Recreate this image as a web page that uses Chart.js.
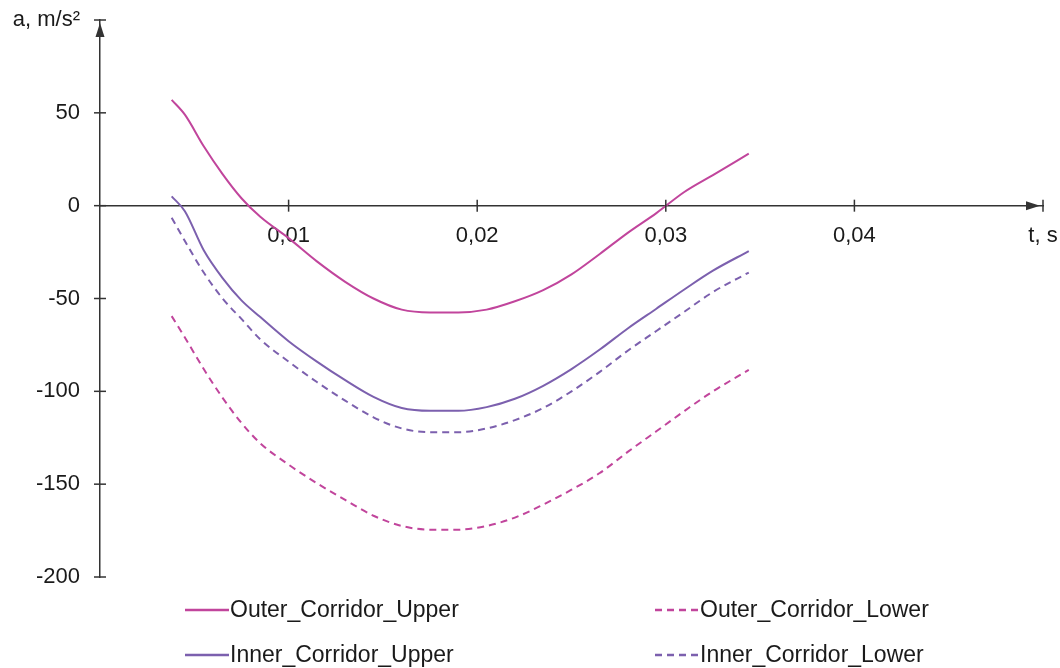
<!DOCTYPE html>
<html>
<head>
<meta charset="utf-8">
<script src="https://cdn.jsdelivr.net/npm/chart.js@4"></script>
<style>
  body { margin: 0; background: #fff; }
  canvas { display: block; }
</style>
</head>
<body>
<canvas id="accChart" width="1060" height="668"></canvas>
<script>
// time, s
const tVals = [0.0038, 0.0045, 0.0055, 0.0065, 0.0075, 0.0085, 0.01, 0.0115, 0.013, 0.0145, 0.016, 0.0175,
               0.019, 0.0205, 0.022, 0.0235, 0.025, 0.0265, 0.028, 0.0295, 0.031, 0.0325, 0.0344];

// acceleration, m/s²
const outerUpper = [57, 49, 32, 17, 4, -6, -17.5, -30, -41, -50, -56, -57.5,
                    -57.5, -56, -51.5, -45.5, -37, -26, -14.5, -4, 7.5, 16.5, 28];
const innerUpper = [5, -3, -24, -39, -51, -60, -73, -84, -94, -103, -109, -110.5,
                    -110.5, -108.5, -104, -97, -88, -77.5, -66, -55.5, -45, -35, -24.5];
const innerLower = [-6.5, -19, -36, -50, -61, -72, -84, -95, -105, -114, -120, -122,
                    -122, -120, -115.5, -109, -100, -89.5, -78, -67.5, -57, -46.5, -36];
const outerLower = [-59.5, -71, -88, -103.5, -117, -128, -139.5, -149.5, -158.5, -167, -172.5, -174.5,
                    -174.5, -172.5, -168, -161, -153, -144, -132.5, -121.5, -110.5, -100, -88.5];

const xTicks = [0.01, 0.02, 0.03, 0.04, 0.05];
const yTicks = [100, 50, 0, -50, -100, -150, -200];

const magenta = "#c1459c";
const purple = "#7c60ae";
const axisColor = "#333333";
const fontFamily = "'Liberation Sans', Arial, sans-serif";

function pts(arr) {
    return tVals.map((t, i) => ({ x: t, y: arr[i] }));
}

// axes arrows + ticks crossing the axis + legend
const axesPlugin = {
    id: "axesPlugin",
    afterDraw(chart) {
        const ctx = chart.ctx;
        const xs = chart.scales.x;
        const ys = chart.scales.y;
        const x0 = xs.getPixelForValue(0);
        const y0 = ys.getPixelForValue(0);
        ctx.save();
        ctx.strokeStyle = axisColor;
        ctx.fillStyle = axisColor;
        ctx.lineWidth = 1.5;

        xTicks.forEach(v => {
            const px = xs.getPixelForValue(v);
            ctx.beginPath();
            ctx.moveTo(px, y0 - 6);
            ctx.lineTo(px, y0 + 6);
            ctx.stroke();
        });
        yTicks.forEach(v => {
            const py = ys.getPixelForValue(v);
            ctx.beginPath();
            ctx.moveTo(x0 - 6, py);
            ctx.lineTo(x0 + 6, py);
            ctx.stroke();
        });

        // arrow heads
        const yTop = ys.getPixelForValue(100);
        ctx.beginPath();
        ctx.moveTo(x0, yTop + 3);
        ctx.lineTo(x0 - 4.5, yTop + 17);
        ctx.lineTo(x0 + 4.5, yTop + 17);
        ctx.closePath();
        ctx.fill();

        const xEnd = xs.getPixelForValue(0.05);
        ctx.beginPath();
        ctx.moveTo(xEnd - 3, y0);
        ctx.lineTo(xEnd - 17, y0 - 4.5);
        ctx.lineTo(xEnd - 17, y0 + 4.5);
        ctx.closePath();
        ctx.fill();

        // legend, 2 columns
        const cols = [185, 655];
        const rows = [610, 655];
        ctx.font = "23px " + fontFamily;
        ctx.textBaseline = "middle";
        ctx.textAlign = "left";
        chart.data.datasets.forEach((ds, i) => {
            const lx = cols[i % 2];
            const ly = rows[Math.floor(i / 2)];
            ctx.strokeStyle = ds.borderColor;
            ctx.lineWidth = 2.5;
            ctx.setLineDash(ds.borderDash || []);
            ctx.beginPath();
            ctx.moveTo(lx, ly);
            ctx.lineTo(lx + 44, ly);
            ctx.stroke();
            ctx.setLineDash([]);
            ctx.fillStyle = "#1a1a1a";
            ctx.fillText(ds.label, lx + 45, ly + 1);
        });
        ctx.restore();
    }
};

new Chart(document.getElementById("accChart"), {
    type: "line",
    data: {
        datasets: [
            { label: "Outer_Corridor_Upper", data: pts(outerUpper), borderColor: magenta },
            { label: "Outer_Corridor_Lower", data: pts(outerLower), borderColor: magenta, borderDash: [7, 5] },
            { label: "Inner_Corridor_Upper", data: pts(innerUpper), borderColor: purple },
            { label: "Inner_Corridor_Lower", data: pts(innerLower), borderColor: purple, borderDash: [7, 5] }
        ]
    },
    options: {
        responsive: false,
        animation: false,
        layout: { padding: { left: 0, right: 17, top: 20, bottom: 91 } },
        elements: {
            point: { radius: 0 },
            line: { borderWidth: 2, cubicInterpolationMode: "monotone", fill: false }
        },
        plugins: {
            legend: { display: false },
            tooltip: { enabled: false }
        },
        scales: {
            x: {
                type: "linear",
                position: { y: 0 },
                min: 0,
                max: 0.05,
                afterBuildTicks: axis => { axis.ticks = xTicks.map(v => ({ value: v })); },
                afterFit: axis => {
                    axis.paddingLeft = 0;
                    axis.paddingRight = 0;
                },
                ticks: {
                    autoSkip: false,
                    maxRotation: 0,
                    padding: 17,
                    color: "#1a1a1a",
                    font: { family: fontFamily, size: 22 },
                    callback: v => v >= 0.05 ? "t, s" : v.toFixed(2).replace(".", ",")
                },
                grid: { display: false, drawTicks: false },
                border: { display: true, color: axisColor, width: 1.5 }
            },
            y: {
                type: "linear",
                position: "left",
                min: -200,
                max: 100,
                afterBuildTicks: axis => { axis.ticks = yTicks.map(v => ({ value: v })); },
                afterFit: axis => {
                    axis.width = 100;
                    axis.paddingTop = 0;
                    axis.paddingBottom = 0;
                },
                ticks: {
                    autoSkip: false,
                    padding: 20,
                    color: "#1a1a1a",
                    font: { family: fontFamily, size: 22 },
                    callback: v => v === 100 ? "a, m/s²" : String(v)
                },
                grid: { display: false, drawTicks: false },
                border: { display: true, color: axisColor, width: 1.5 }
            }
        }
    },
    plugins: [axesPlugin]
});
</script>
</body>
</html>
